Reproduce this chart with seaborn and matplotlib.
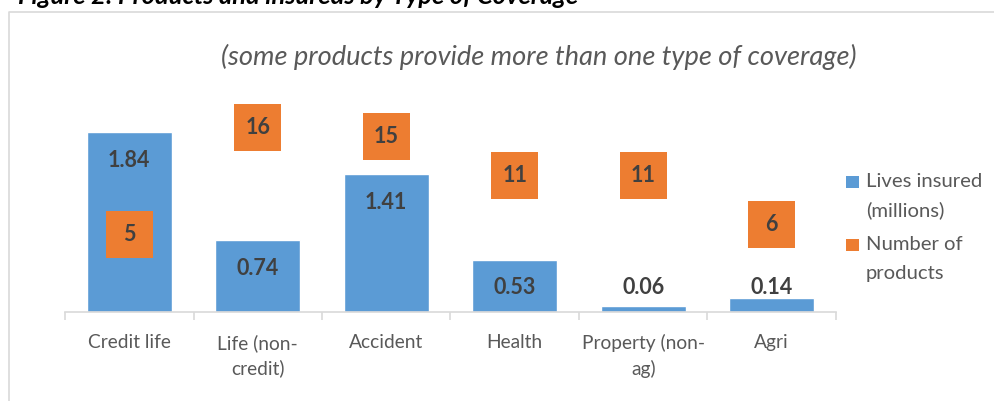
#!/usr/bin/env python3

import numpy as np
import pandas as pd
import seaborn as sns
import matplotlib.pyplot as plt
from matplotlib.lines import Line2D
from matplotlib.patches import Rectangle

categories = ["Credit life", "Life (non-\ncredit)", "Accident", "Health",
              "Property (non-\nag)", "Agri"]
lives_insured = [1.84, 0.74, 1.41, 0.53, 0.06, 0.14]
num_products = [5, 16, 15, 11, 11, 6]
legend_labels = [["Lives insured", "(millions)"], ["Number of", "products"]]

BLUE = "#5B9BD5"
ORANGE = "#ED7D31"
GREY = "#595959"
DARK = "#404040"
LINE = "#D9D9D9"
FONT = ["Lato", "DejaVu Sans"]

sns.set_theme(style="white")
plt.rcParams["font.family"] = FONT

W, H = 995, 401
fig = plt.figure(figsize=(W / 100, H / 100), dpi=100)
ax = fig.add_axes([65 / W, 1 - 312 / H, (836 - 65) / W, 215 / H])

df = pd.DataFrame({"cat": categories, "lives": lives_insured, "products": num_products})

sns.barplot(data=df, x="cat", y="lives", color=BLUE, width=0.66,
            saturation=1, ax=ax)
ax.set_ylim(0, 2.2)
ax.set_xlim(-0.5, len(categories) - 0.5)

# bar labels, inside end but never below a minimum height
for i, v in enumerate(lives_insured):
    ax.text(i, max(v - 0.29, 0.255), f"{v:.2f}", ha="center", va="center",
            fontsize=15.5, fontweight="bold", color=DARK)

ax2 = ax.twinx()
sns.scatterplot(data=df, x="cat", y="products", marker="s", s=34 ** 2,
                color=ORANGE, edgecolor="none", linewidth=0, ax=ax2,
                legend=False, zorder=3)
ax2.set_ylim(-3, 19.1)
ax2.set_xlim(-0.5, len(categories) - 0.5)
for i, v in enumerate(num_products):
    ax2.text(i, v, str(v), ha="center", va="center", fontsize=15.5,
             fontweight="bold", color=DARK, zorder=4)

for a in (ax, ax2):
    a.set_xlabel("")
    a.set_ylabel("")
    a.set_yticks([])
    for s in ("top", "right", "left"):
        a.spines[s].set_visible(False)
ax2.spines["bottom"].set_visible(False)
ax.spines["bottom"].set_color(LINE)
ax.spines["bottom"].set_linewidth(1.2)

ax.set_xticks(range(len(categories)))
ax.set_xticklabels(categories, fontsize=13.8, color=GREY, linespacing=1.5)
ax.set_xticks(np.arange(-0.5, len(categories)), minor=True)
ax.tick_params(axis="x", which="major", length=0, pad=16)
ax.tick_params(axis="x", which="minor", length=6, width=1.2, color=LINE,
               bottom=True, direction="out")
for lbl in ax.get_xticklabels():
    lbl.set_verticalalignment("top")

fig.text(539 / W, 1 - 57 / H,
         "(some products provide more than one type of coverage)",
         ha="center", va="center", fontsize=19.6, style="italic", color=GREY)

# title cut off at the top of the image, as in the source
fig.text(18 / W, 1 - 4 / H,
         "Figure 2: Products and insureds by Type of Coverage",
         ha="left", va="baseline", fontsize=18.3, style="italic",
         fontweight="bold", color="black")

# chart frame
fig.add_artist(Line2D([9 / W, 9 / W, 1], [0, 1 - 12 / H, 1 - 12 / H],
                      color=LINE, linewidth=1.2))

# legend: swatch lines up with the first text line, like Excel does
for (first, second), colour, y0 in zip(legend_labels, [BLUE, ORANGE], [182, 245]):
    fig.add_artist(Rectangle((846 / W, 1 - (y0 + 6) / H), 13 / W, 12 / H,
                             facecolor=colour, edgecolor="none",
                             transform=fig.transFigure))
    fig.text(866 / W, 1 - y0 / H, first, ha="left", va="center",
             fontsize=14.6, color=GREY)
    fig.text(866 / W, 1 - (y0 + 28) / H, second, ha="left", va="center",
             fontsize=14.6, color=GREY)

fig.savefig("out.png", dpi=100)
